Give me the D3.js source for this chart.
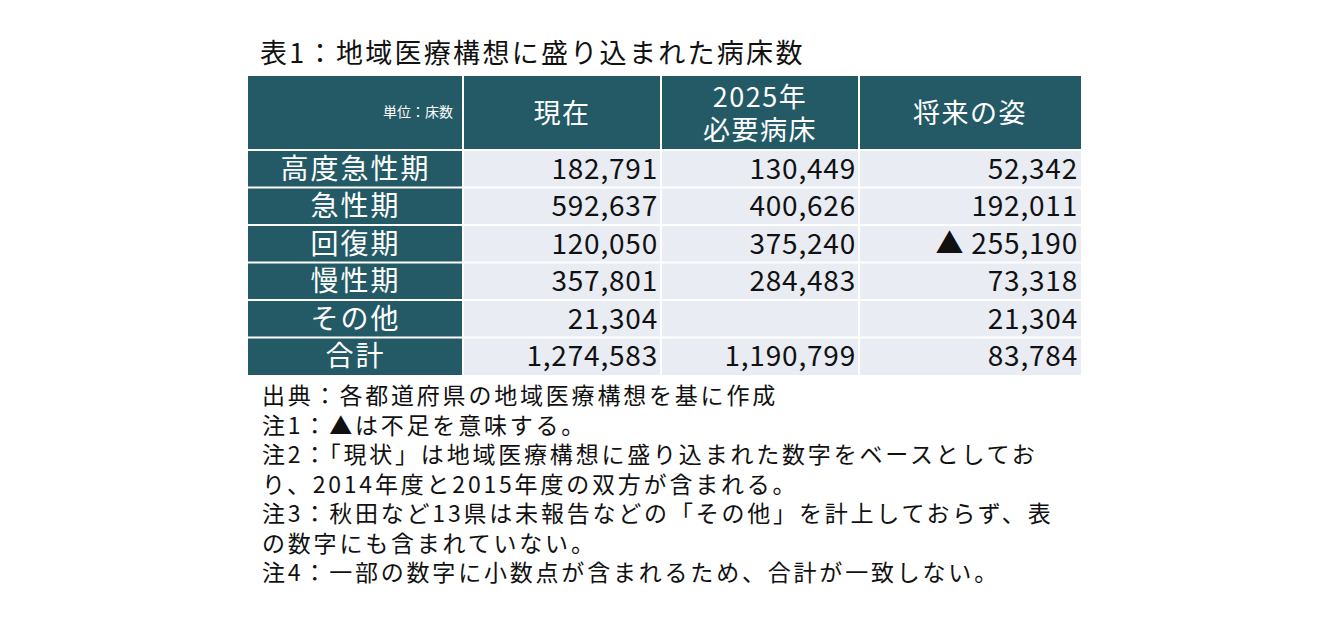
<!DOCTYPE html><html><head><meta charset="utf-8">
<script src="https://cdn.jsdelivr.net/npm/d3@7"></script>
<style>body{margin:0;background:#fff}</style></head><body>
<svg id="c" width="1332" height="626"></svg>
<script>
const title = "表1：地域医療構想に盛り込まれた病床数";
const unitLabel = "単位：床数";
const columns = [["現在"], ["2025年", "必要病床"], ["将来の姿"]];
const categories = ["高度急性期", "急性期", "回復期", "慢性期", "その他", "合計"];
const current = ["182,791", "592,637", "120,050", "357,801", "21,304", "1,274,583"];
const required2025 = ["130,449", "400,626", "375,240", "284,483", "", "1,190,799"];
const future = ["52,342", "192,011", "▲ 255,190", "73,318", "21,304", "83,784"];
const notes = ["出典：各都道府県の地域医療構想を基に作成", "注1：▲は不足を意味する。",
 "注2：「現状」は地域医療構想に盛り込まれた数字をベースとしてお", "り、2014年度と2015年度の双方が含まれる。",
 "注3：秋田など13県は未報告などの「その他」を計上しておらず、表", "の数字にも含まれていない。",
 "注4：一部の数字に小数点が含まれるため、合計が一致しない。"];

const svg = d3.select("#c");
const F = "'Noto Sans CJK JP', sans-serif";
const dark = "#235a66", light = "#e9ecf3";
const colEdges = [248, 463, 661, 859, 1081];
const headTop = 76, headBot = 150, rowH = 37.5;
const y = d3.scaleBand().domain(categories).range([headBot, headBot + rowH * categories.length]);
const dataCols = [current, required2025, future];

svg.append("text").attr("x", 260).attr("y", 63).attr("font-family", F).attr("font-size", 27).attr("letter-spacing", 2.3).attr("fill", "#111").text(title);

svg.append("rect").attr("x", colEdges[0]).attr("y", headTop).attr("width", colEdges[4] - colEdges[0]).attr("height", headBot - headTop).attr("fill", dark);
svg.append("text").attr("x", colEdges[1] - 10).attr("y", 117).attr("text-anchor", "end").attr("font-family", F).attr("font-size", 14).attr("fill", "#fff").text(unitLabel);
columns.forEach((lines, i) => {
  const cx = (colEdges[i + 1] + colEdges[i + 2]) / 2;
  const n = lines.length;
  lines.forEach((l, j) => {
    svg.append("text").attr("x", cx).attr("y", (headTop + headBot) / 2 + (j - (n - 1) / 2) * 33 + 10)
      .attr("text-anchor", "middle").attr("font-family", F).attr("font-size", 27).attr("letter-spacing", 1.5).attr("fill", "#fff").text(l);
  });
});
categories.forEach((c, r) => {
  const y0 = y(c);
  svg.append("rect").attr("x", colEdges[0]).attr("y", y0).attr("width", colEdges[1] - colEdges[0]).attr("height", rowH).attr("fill", dark);
  svg.append("rect").attr("x", colEdges[1]).attr("y", y0).attr("width", colEdges[4] - colEdges[1]).attr("height", rowH).attr("fill", light);
  svg.append("text").attr("x", (colEdges[0] + colEdges[1]) / 2).attr("y", y0 + rowH / 2 + 10).attr("text-anchor", "middle")
    .attr("font-family", F).attr("font-size", 28).attr("letter-spacing", 2).attr("fill", "#fff").text(c);
  dataCols.forEach((arr, i) => {
    svg.append("text").attr("x", colEdges[i + 2] - 3).attr("y", y0 + rowH / 2 + 10).attr("text-anchor", "end")
      .attr("font-family", F).attr("font-size", 28).attr("letter-spacing", 0.8).attr("fill", "#111").text(arr[r]);
  });
});
const bottom = headBot + rowH * categories.length;
colEdges.slice(1, 4).forEach(x => svg.append("line").attr("x1", x).attr("x2", x).attr("y1", headTop).attr("y2", bottom).attr("stroke", "#fff").attr("stroke-width", 2));
categories.forEach(c => svg.append("line").attr("x1", colEdges[0]).attr("x2", colEdges[4]).attr("y1", y(c)).attr("y2", y(c)).attr("stroke", "#fff").attr("stroke-width", 2));
notes.forEach((n, i) => svg.append("text").attr("x", 262).attr("y", 404 + i * 29.5).attr("font-family", F).attr("font-size", 23).attr("letter-spacing", 2.8).attr("fill", "#111").text(n));
</script></body></html>
